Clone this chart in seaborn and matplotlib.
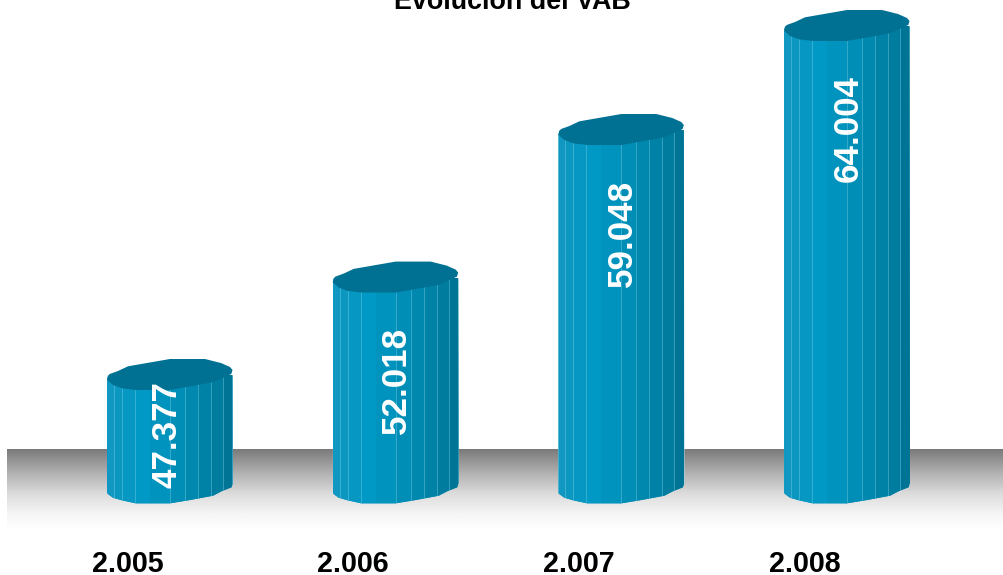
import matplotlib
matplotlib.use("Agg")
import matplotlib.pyplot as plt
import matplotlib.transforms as mtrans
from matplotlib.patches import Polygon
import numpy as np
import pandas as pd
import seaborn as sns

years = ["2.005", "2.006", "2.007", "2.008"]
values = [47.377, 52.018, 59.048, 64.004]

sns.set_theme(style="white")
plt.rcParams['font.family'] = ['Liberation Sans', 'DejaVu Sans']

W, H = 1004, 575
PX_X = 225.67   # pixels per category
PX_Y = 20.99    # pixels per value unit
BASE = 42.04    # value sitting on the centre of the bottom ellipse
BAR_W = 126 / PX_X

# cylinder outline, pixels from the bar centre
top_shape = [(-63, -4.7), (-62, -1), (-60.3, 1), (-52, 4), (-42, 8.7), (0, 16), (35, 16), (51, 12), (60, 8),
             (62.5, 5), (61.3, 1), (43, -7.3), (0, -15), (-34, -15), (-48, -13.3), (-57, -10)]
bottom_shape = [(63, 4.3), (61.5, -0.3), (52, -4), (43, -8.7), (20, -13), (0, -16.3),
                (-34.3, -16.3), (-48, -13.3), (-57, -10.7), (-63, -6.3)]
upper_edge = top_shape[:10]

# facets: left edge, right edge (pixels from centre), colour
facets = [(-63, -56, "#1098c2"), (-56, -48, "#0c97c1"), (-48, -35, "#0698c3"), (-35, -20, "#0098c4"),
          (-20, 0, "#0093be"), (0, 15, "#008db6"), (15, 28, "#0088af"), (28, 41, "#0082a7"),
          (41, 53, "#007c9f"), (53, 63, "#007495")]
line_at = [-56, -48, -35, 0, 15, 28, 41, 53, 62.5]

fig = plt.figure(figsize=(W / 100, H / 100), dpi=100)
ax = fig.add_axes([0, 30 / H, 1, 545 / H])

df = pd.DataFrame({"year": years, "value": values})
sns.barplot(data=df, x="year", y="value", color="#0090ba", width=BAR_W, saturation=1, ax=ax, zorder=3)

x0 = -170 / PX_X
ax.set_xlim(x0, x0 + W / PX_X)
y_bottom = values[0] + (375 - 545) / PX_Y
ax.set_ylim(y_bottom, y_bottom + 545 / PX_Y)

# grey floor behind the bars
floor_top = values[0] + (375 - 449) / PX_Y
floor_low = values[0] + (375 - 530) / PX_Y
shade = np.interp(np.linspace(0, 1, 82), [0, 0.3, 0.55, 0.8, 1], [0.48, 0.70, 0.86, 0.96, 1.0])
ax.imshow(shade[:, None], cmap="gray", vmin=0, vmax=1, aspect="auto", zorder=1,
          extent=[x0 + 7 / PX_X, x0 + W / PX_X, floor_low, floor_top])
ax.set_xlim(x0, x0 + W / PX_X)
ax.set_ylim(y_bottom, y_bottom + 545 / PX_Y)

for i, v in enumerate(values):
    outline = [(i + dx / PX_X, v + dy / PX_Y) for dx, dy in upper_edge]
    outline += [(i + dx / PX_X, BASE + dy / PX_Y) for dx, dy in bottom_shape]
    body = Polygon(outline, closed=True, transform=ax.transData)

    ax.patches[i].set_clip_path(body)
    for left, right, col in facets:
        strip = ax.bar(i + (left + right) / 2 / PX_X, v, width=(right - left) / PX_X,
                       color=col, linewidth=0, antialiased=False, zorder=3)
        strip[0].set_clip_path(body)
    for pos in line_at:
        line = ax.vlines(i + pos / PX_X, 0, v, color="#6cc8e0", linewidth=0.7,
                         alpha=0.5, zorder=3.5)
        line.set_clip_path(body)

    cap = [(i + dx / PX_X, v + dy / PX_Y) for dx, dy in top_shape]
    ax.add_patch(Polygon(cap, closed=True, facecolor="#007192", edgecolor="none", zorder=4))

    # first label sits lower in its short bar
    if i == 0:
        lx, ly = i - 3 / PX_X, v - 60 / PX_Y
    else:
        lx, ly = i + 1 / PX_X, v - 103 / PX_Y
    ax.text(lx, ly, f"{v:.3f}", rotation=90, ha="center", va="center", color="white",
            fontsize=25.2, fontweight="bold", zorder=5)

ax.set_xlabel("")
ax.set_ylabel("")
ax.set_yticks([])
ax.tick_params(axis="x", length=0, pad=3.5)
shift = mtrans.ScaledTranslation(-42.5 / 100, 0, fig.dpi_scale_trans)
for lab in ax.get_xticklabels():
    lab.set_fontsize(20.6)
    lab.set_fontweight("bold")
    lab.set_color("black")
    lab.set_transform(lab.get_transform() + shift)
sns.despine(ax=ax, left=True, bottom=True, top=True, right=True)
ax.patch.set_visible(False)

ax.set_title("Evolución del VAB", x=512 / W, y=(545 - 9) / 545, fontsize=19.4, fontweight="bold",
             color="black", va="baseline", pad=0)

fig.savefig("out.png", dpi=100)
